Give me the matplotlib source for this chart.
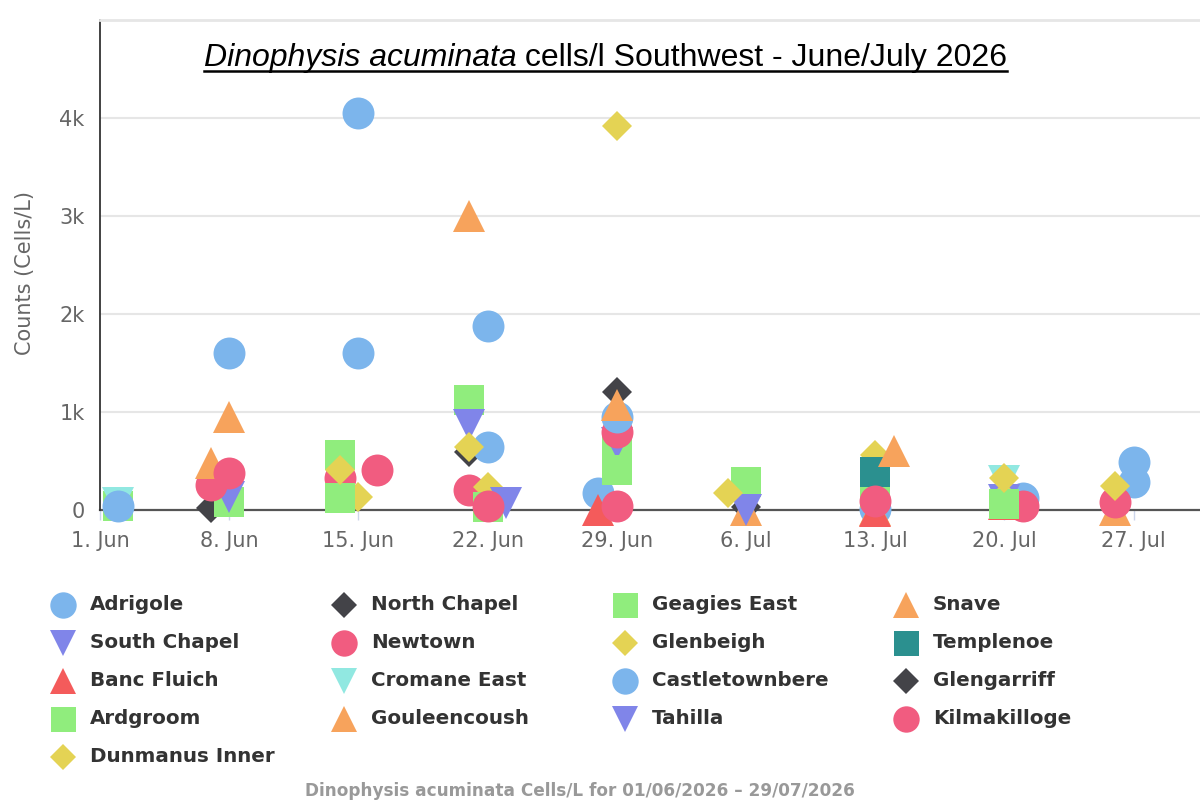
import numpy as np
import matplotlib
matplotlib.use("Agg")
from matplotlib import pyplot as plt
from matplotlib.lines import Line2D
import matplotlib.dates as mdates

# ---- data ----
adrigole_d = ["2026-06-08", "2026-06-15", "2026-06-22", "2026-06-28", "2026-07-13", "2026-07-21", "2026-07-27"]
adrigole_v = [1600, 4050, 1880, 170, 10, 120, 490]
north_chapel_d = ["2026-06-07", "2026-06-21", "2026-07-06"]
north_chapel_v = [20, 590, 30]
geagies_east_d = ["2026-06-02", "2026-06-08", "2026-06-14", "2026-06-21", "2026-06-29", "2026-07-06", "2026-07-13"]
geagies_east_v = [40, 80, 560, 1120, 620, 290, 170]
snave_d = ["2026-06-08", "2026-06-21", "2026-07-06", "2026-07-13"]
snave_v = [950, 3000, 0, 0]
south_chapel_d = ["2026-06-08", "2026-06-21", "2026-06-29", "2026-07-06", "2026-07-20"]
south_chapel_v = [130, 870, 680, 0, 100]
newtown_d = ["2026-06-07", "2026-06-14", "2026-06-21", "2026-06-29", "2026-07-21"]
newtown_v = [255, 330, 200, 800, 40]
glenbeigh_d = ["2026-06-15", "2026-06-22", "2026-06-29", "2026-07-13", "2026-07-20"]
glenbeigh_v = [130, 235, 3920, 560, 130]
templenoe_d = ["2026-07-13"]
templenoe_v = [390]
banc_fluich_d = ["2026-06-28", "2026-07-13", "2026-07-20"]
banc_fluich_v = [0, -10, 60]
cromane_east_d = ["2026-06-02", "2026-07-20"]
cromane_east_v = [70, 300]
castletownbere_d = ["2026-06-02", "2026-06-15", "2026-06-22", "2026-06-29", "2026-07-27"]
castletownbere_v = [40, 1600, 640, 950, 290]
glengarriff_d = ["2026-06-29"]
glengarriff_v = [1200]
ardgroom_d = ["2026-06-14", "2026-06-22", "2026-06-29", "2026-07-20"]
ardgroom_v = [120, 30, 410, 60]
gouleencoush_d = ["2026-06-07", "2026-06-29", "2026-07-14", "2026-07-26"]
gouleencoush_v = [480, 1070, 600, 0]
tahilla_d = ["2026-06-23"]
tahilla_v = [70]
kilmakilloge_d = ["2026-06-08", "2026-06-16", "2026-06-22", "2026-06-29", "2026-07-13", "2026-07-26"]
kilmakilloge_v = [378, 410, 40, 40, 90, 80]
dunmanus_d = ["2026-06-14", "2026-06-21", "2026-07-05", "2026-07-20", "2026-07-26"]
dunmanus_v = [410, 640, 170, 330, 240]

names = ["Adrigole", "North Chapel", "Geagies East", "Snave", "South Chapel", "Newtown",
         "Glenbeigh", "Templenoe", "Banc Fluich", "Cromane East", "Castletownbere",
         "Glengarriff", "Ardgroom", "Gouleencoush", "Tahilla", "Kilmakilloge", "Dunmanus Inner"]
series = [(adrigole_d, adrigole_v), (north_chapel_d, north_chapel_v), (geagies_east_d, geagies_east_v),
          (snave_d, snave_v), (south_chapel_d, south_chapel_v), (newtown_d, newtown_v),
          (glenbeigh_d, glenbeigh_v), (templenoe_d, templenoe_v), (banc_fluich_d, banc_fluich_v),
          (cromane_east_d, cromane_east_v), (castletownbere_d, castletownbere_v),
          (glengarriff_d, glengarriff_v), (ardgroom_d, ardgroom_v), (gouleencoush_d, gouleencoush_v),
          (tahilla_d, tahilla_v), (kilmakilloge_d, kilmakilloge_v), (dunmanus_d, dunmanus_v)]

colors = ["#7cb5ec", "#434348", "#90ed7d", "#f7a35c", "#8085e9",
          "#f15c80", "#e4d354", "#2b908f", "#f45b5b", "#91e8e1"]
symbols = ["o", "D", "s", "^", "v"]
msize = {"o": 23, "D": 15.5, "s": 22, "^": 23, "v": 23}
lsize = {"o": 19, "D": 13, "s": 18, "^": 19, "v": 19}

fig = plt.figure(figsize=(12, 8), dpi=100)
ax = fig.add_axes([100 / 1200, 1 - 510 / 800, 1100 / 1200, 490 / 800])

for i, (d, v) in enumerate(series):
    x = mdates.date2num(np.array(d, dtype="datetime64[D]"))
    m = symbols[i % 5]
    ax.plot(x, v, linestyle="none", marker=m, markersize=msize[m],
            color=colors[i % 10], markeredgewidth=0, clip_on=False, zorder=3 + i * 0.01)

start = mdates.date2num(np.datetime64("2026-06-01"))
ax.set_xlim(start, start + 59.6)
ax.set_ylim(0, 5000)
ticks = [start + 7 * k for k in range(9)]
tick_labels = ["1. Jun", "8. Jun", "15. Jun", "22. Jun", "29. Jun", "6. Jul", "13. Jul", "20. Jul", "27. Jul"]
ax.set_xticks(ticks)
ax.set_xticklabels(tick_labels)
ax.set_yticks([0, 1000, 2000, 3000, 4000])
ax.set_yticklabels(["0", "1k", "2k", "3k", "4k"])
ax.tick_params(axis="x", direction="out", length=7, width=1, color="#ccd6eb",
               labelsize=15, labelcolor="#666666", pad=8)
ax.tick_params(axis="y", length=0, labelsize=15, labelcolor="#666666", pad=11)
for y in [1000, 2000, 3000, 4000]:
    ax.axhline(y, color="#e6e6e6", lw=1.5, zorder=1)
ax.spines["right"].set_visible(False)
ax.spines["top"].set_color("#e6e6e6")
ax.spines["top"].set_linewidth(2)
ax.spines["left"].set_color("#333333")
ax.spines["left"].set_linewidth(1.3)
ax.spines["bottom"].set_color("#555555")
ax.spines["bottom"].set_linewidth(1.6)
ax.spines["bottom"].set_zorder(2)

fig.text(25 / 1200, 1 - 273 / 800, "Counts (Cells/L)", rotation=90, ha="center", va="center",
         fontsize=15, color="#666666")

# title, italic species name + underline, fitted to the reference width
tfam = ["Liberation Sans", "DejaVu Sans"]
ty = 1 - 66 / 800
t1 = fig.text(0, ty, "Dinophysis acuminata", fontsize=25, style="italic", family=tfam, va="baseline")
t2 = fig.text(0, ty, " cells/l Southwest - June/July 2026", fontsize=25, family=tfam, va="baseline")
fig.canvas.draw()
r = fig.canvas.get_renderer()
w = t1.get_window_extent(r).width + t2.get_window_extent(r).width
fs = 25 * 805 / w
t1.set_fontsize(fs)
t2.set_fontsize(fs)
fig.canvas.draw()
w1 = t1.get_window_extent(r).width
w2 = t2.get_window_extent(r).width
left = 605.5 - (w1 + w2) / 2
t1.set_x(left / 1200)
t2.set_x((left + w1) / 1200)
fig.add_artist(Line2D([left / 1200, (left + w1 + w2) / 1200], [1 - 71 / 800] * 2,
                      transform=fig.transFigure, color="black", lw=1.8))

# legend, row-wise, 4 columns
for i, name in enumerate(names):
    row, col = i // 4, i % 4
    yy = 1 - (605 + 38 * row) / 800
    m = symbols[i % 5]
    fig.add_artist(Line2D([(63 + 281 * col) / 1200], [yy], transform=fig.transFigure,
                          marker=m, markersize=lsize[m], color=colors[i % 10],
                          markeredgewidth=0, linestyle="none"))
    fig.text((90 + 281 * col) / 1200, yy, name, fontsize=14.3, fontweight="bold",
             family="DejaVu Sans", color="#333333", va="center")

fig.text(580 / 1200, 1 - 791 / 800, "Dinophysis acuminata Cells/L for 01/06/2026 \u2013 29/07/2026",
         fontsize=12.2, fontweight="bold", color="#999999", ha="center", va="center")

fig.savefig("out.png", dpi=100)
